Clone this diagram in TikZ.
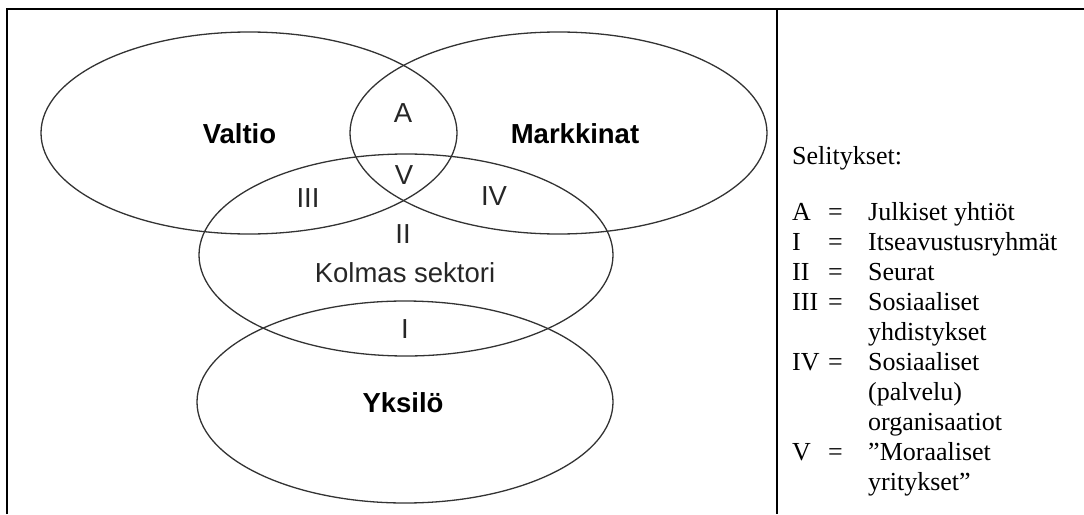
\documentclass[tikz,border=0pt]{standalone}
\usepackage{fontspec}
\setmainfont{Liberation Serif}
\newfontfamily\diagfont{Liberation Sans}
\begin{document}
\begin{tikzpicture}[x=1pt,y=-1pt,
  venn/.style={draw=black!80, line width=1.3pt},
  frameline/.style={line width=2.2pt, black},
  boldlbl/.style={font=\diagfont\fontsize{27.5}{30}\selectfont\bfseries, anchor=base, inner sep=0pt},
  reglbl/.style={font=\diagfont\fontsize{27.5}{30}\selectfont, anchor=base, inner sep=0pt, text=black!85},
  leg/.style={font=\fontsize{26}{30}\selectfont, anchor=base west, inner sep=0pt}]
\useasboundingbox (0,0) rectangle (1084,514);
% frame
\coordinate (fbl) at (7,514);
\coordinate (ftl) at (7,9);
\coordinate (ftr) at (1084,9);
\coordinate (dtop) at (777,9);
\coordinate (dbot) at (777,514);
\draw[frameline] (fbl) -- (ftl) -- (ftr);
\draw[frameline] (dtop) -- (dbot);
% ellipses
\draw[venn] (249,133) ellipse [x radius=208, y radius=101];
\draw[venn] (558.5,133) ellipse [x radius=208.5, y radius=101];
\draw[venn] (406,255) ellipse [x radius=207, y radius=101];
\draw[venn] (405,402) ellipse [x radius=208, y radius=101];
% labels
\node[boldlbl] (valtio) at (239.5,143) {Valtio};
\node[boldlbl] (markkinat) at (575,143) {Markkinat};
\node[boldlbl] (yksilo) at (403,412) {Yksilö};
\node[reglbl] (lA) at (403,122) {A};
\node[reglbl] (lV) at (404,184) {V};
\node[reglbl] (lIII) at (308,207) {III};
\node[reglbl] (lIV) at (494,205) {IV};
\node[reglbl] (lII) at (403,243) {II};
\node[reglbl] (kolmas) at (405,282) {Kolmas sektori};
\node[reglbl] (lI) at (405,338) {I};
% legend
\node[leg] (sel) at (792,164) {Selitykset:};
\node[leg] (kA) at (792,220) {A};
\node[leg] (eA) at (828,220) {=};
\node[leg] (tA) at (868,220) {Julkiset yhtiöt};
\node[leg] (kI) at (792,250) {I};
\node[leg] (eI) at (828,250) {=};
\node[leg] (tI) at (868,250) {Itseavustusryhmät};
\node[leg] (kII) at (792,280) {II};
\node[leg] (eII) at (828,280) {=};
\node[leg] (tII) at (868,280) {Seurat};
\node[leg] (kIII) at (792,310) {III};
\node[leg] (eIII) at (828,310) {=};
\node[leg] (tIII) at (868,310) {Sosiaaliset};
\node[leg] (tIIIb) at (868,340) {yhdistykset};
\node[leg] (kIV) at (792,370) {IV};
\node[leg] (eIV) at (828,370) {=};
\node[leg] (tIV) at (868,370) {Sosiaaliset};
\node[leg] (tIVb) at (868,400) {(palvelu)};
\node[leg] (tIVc) at (868,430) {organisaatiot};
\node[leg] (kV) at (792,460) {V};
\node[leg] (eV) at (828,460) {=};
\node[leg] (tV) at (868,460) {”Moraaliset};
\node[leg] (tVb) at (868,490) {yritykset”};
\end{tikzpicture}
\end{document}
